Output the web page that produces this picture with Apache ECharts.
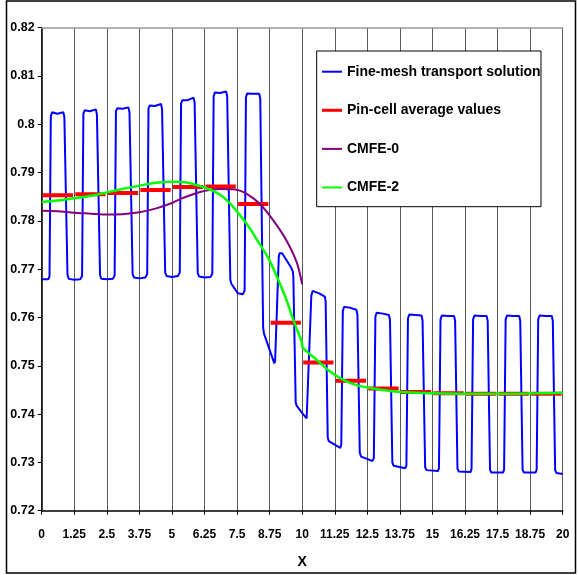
<!DOCTYPE html>
<html>
<head>
<meta charset="utf-8">
<script src="https://cdn.jsdelivr.net/npm/echarts@6/dist/echarts.min.js"></script>
<style>html,body{margin:0;padding:0;background:#fff;}#c{width:578px;height:575px;}</style>
</head>
<body>
<div id="c"></div>
<script>
// ---- data ----
var xTicks = [0, 1.25, 2.5, 3.75, 5, 6.25, 7.5, 8.75, 10, 11.25, 12.5, 13.75, 15, 16.25, 17.5, 18.75, 20];
var yTicks = [0.72, 0.73, 0.74, 0.75, 0.76, 0.77, 0.78, 0.79, 0.8, 0.81, 0.82];

var fineMesh = [
  [0, 0.7679], [0.25, 0.7679], [0.30, 0.7685], [0.35, 0.8017], [0.40, 0.8025], [0.60, 0.8022], [0.83, 0.8025], [0.87, 0.8015], [0.99, 0.7688], [1.04, 0.7680], [1.25, 0.7678], [1.48, 0.7679],
  [1.55, 0.7686], [1.60, 0.8022], [1.65, 0.8029], [1.85, 0.8027], [2.08, 0.8031], [2.12, 0.8020], [2.24, 0.7688], [2.29, 0.7680], [2.5, 0.7679], [2.73, 0.7680],
  [2.80, 0.7687], [2.85, 0.8027], [2.90, 0.8033], [3.10, 0.8032], [3.33, 0.8035], [3.37, 0.8025], [3.49, 0.7690], [3.54, 0.7683], [3.75, 0.7681], [3.98, 0.7683],
  [4.05, 0.7690], [4.10, 0.8033], [4.15, 0.8039], [4.35, 0.8038], [4.58, 0.8042], [4.62, 0.8032], [4.74, 0.7693], [4.79, 0.7686], [5.0, 0.7684], [5.23, 0.7686],
  [5.30, 0.7693], [5.35, 0.8043], [5.40, 0.8050], [5.60, 0.8050], [5.83, 0.8055], [5.87, 0.8045], [5.99, 0.7692], [6.04, 0.7685], [6.25, 0.7683], [6.48, 0.7684],
  [6.55, 0.7691], [6.60, 0.8058], [6.65, 0.8066], [6.85, 0.8065], [7.08, 0.8068], [7.12, 0.8058], [7.24, 0.7678], [7.28, 0.7670], [7.53, 0.7650], [7.72, 0.7648],
  [7.79, 0.7656], [7.84, 0.8056], [7.89, 0.8064], [8.10, 0.8063], [8.35, 0.8063], [8.39, 0.8053], [8.50, 0.7580], [8.53, 0.7567], [8.93, 0.7505], [8.96, 0.7510],
  [9.10, 0.7725], [9.13, 0.7733], [9.23, 0.7733], [9.58, 0.7703], [9.64, 0.7695], [9.66, 0.7685], [9.75, 0.7425], [9.78, 0.7418], [10.0, 0.7402], [10.17, 0.7391], [10.22, 0.7395],
  [10.35, 0.7645], [10.40, 0.7655], [10.65, 0.7650], [10.87, 0.7643], [10.90, 0.7633], [10.98, 0.7352], [11.02, 0.7344], [11.46, 0.7330],
  [11.50, 0.7337], [11.56, 0.7614], [11.61, 0.7622], [11.85, 0.7620], [12.08, 0.7616], [12.12, 0.7606], [12.21, 0.7320], [12.26, 0.7312], [12.70, 0.7303],
  [12.75, 0.7309], [12.81, 0.7602], [12.86, 0.7610], [13.10, 0.7608], [13.33, 0.7605], [13.37, 0.7595], [13.46, 0.7300], [13.51, 0.7293], [13.96, 0.7288],
  [14.00, 0.7294], [14.06, 0.7598], [14.11, 0.7606], [14.35, 0.7605], [14.58, 0.7604], [14.62, 0.7594], [14.72, 0.7290], [14.77, 0.7284], [15.21, 0.7282],
  [15.25, 0.7288], [15.31, 0.7596], [15.36, 0.7604], [15.60, 0.7603], [15.83, 0.7603], [15.87, 0.7593], [15.96, 0.7287], [16.01, 0.7281], [16.46, 0.7280],
  [16.50, 0.7286], [16.56, 0.7596], [16.61, 0.7604], [16.85, 0.7603], [17.08, 0.7603], [17.12, 0.7593], [17.21, 0.7285], [17.26, 0.7279], [17.71, 0.7279],
  [17.75, 0.7285], [17.81, 0.7596], [17.86, 0.7604], [18.10, 0.7603], [18.33, 0.7603], [18.37, 0.7593], [18.46, 0.7285], [18.51, 0.7279], [18.96, 0.7279],
  [19.00, 0.7285], [19.06, 0.7596], [19.11, 0.7604], [19.35, 0.7603], [19.58, 0.7603], [19.62, 0.7593], [19.71, 0.7284], [19.76, 0.7278], [20.00, 0.7276]
];

var pinCellEdges = [0, 1.25, 2.5, 3.75, 5, 6.25, 7.5, 8.75, 10, 11.25, 12.5, 13.75, 15, 16.25, 17.5, 18.75, 20];
var pinCellAverage = [0.7853, 0.7855, 0.7858, 0.7864, 0.7870, 0.7871, 0.7835, 0.7589, 0.7507, 0.7469, 0.7453, 0.7446, 0.7443, 0.7442, 0.7442, 0.7442];

var cmfe0 = [
  [0, 0.7821], [0.6, 0.7820], [1.25, 0.7817], [1.9, 0.7815], [2.5, 0.7813], [3.1, 0.7814], [3.75, 0.7818], [4.4, 0.7826],
  [5.0, 0.7837], [5.31, 0.7845], [5.7, 0.7853], [6.08, 0.7860], [6.45, 0.7864], [6.85, 0.7866], [7.42, 0.7865], [7.87, 0.7856],
  [8.38, 0.7835], [8.89, 0.7801], [9.40, 0.7759], [9.79, 0.7714], [10.0, 0.7669]
];

var cmfe2 = [
  [0, 0.7839], [0.6, 0.7842], [1.25, 0.7847], [1.9, 0.7852], [2.5, 0.7859], [3.1, 0.7866], [3.75, 0.7873], [4.4, 0.7879],
  [5.0, 0.7881], [5.5, 0.7880], [6.08, 0.7872], [6.5, 0.7864], [6.85, 0.7854], [7.2, 0.7838], [7.61, 0.7812], [8.0, 0.7784],
  [8.25, 0.7762], [8.70, 0.7723], [9.08, 0.7678], [9.40, 0.7636], [9.66, 0.7595], [9.88, 0.7564], [9.98, 0.7550], [10.02, 0.7538],
  [10.56, 0.7512], [11.07, 0.7488], [11.58, 0.7471], [12.09, 0.7460], [12.73, 0.7453], [13.37, 0.7448], [13.75, 0.7446],
  [14.9, 0.7443], [16, 0.7442], [17.5, 0.7442], [19, 0.7443], [20, 0.7444]
];

var seriesNames = ['Fine-mesh transport solution', 'Pin-cell average values', 'CMFE-0', 'CMFE-2'];
var xTitle = 'X';

// ---- build red segments (one segment per pin cell, with small gaps) ----
var pinSegments = [];
for (var i = 0; i < pinCellAverage.length; i++) {
  pinSegments.push([pinCellEdges[i] + 0.04, pinCellAverage[i]]);
  pinSegments.push([pinCellEdges[i + 1] - 0.05, pinCellAverage[i]]);
  pinSegments.push([pinCellEdges[i + 1] - 0.02, null]);
}

var FONT = "'Liberation Sans Narrow', 'Arial Narrow', 'Liberation Sans', Arial, sans-serif";
var thinIcon = 'path://M0,0M0,7L20,7L20,9L0,9ZM20,16';
var thickIcon = 'path://M0,0M0,6.5L20,6.5L20,9.5L0,9.5ZM20,16';

var chart = echarts.init(document.getElementById('c'), null, {renderer: 'canvas'});
chart.setOption({
  animation: false,
  backgroundColor: '#fff',
  grid: {left: 41.7, right: 15.3, top: 27.7, bottom: 64.3, containLabel: false},
  xAxis: [{
    type: 'value', min: xTicks[0], max: xTicks[xTicks.length - 1], interval: 1.25,
    name: xTitle, nameLocation: 'middle', nameGap: 44,
    nameTextStyle: {fontFamily: FONT, fontWeight: 'bold', fontSize: 14, color: '#000'},
    axisLine: {show: true, onZero: false, lineStyle: {color: '#000', width: 1.5}},
    axisTick: {show: true, inside: false, length: 4, lineStyle: {color: '#000'}},
    axisLabel: {margin: 18, fontFamily: FONT, fontWeight: 'bold', fontSize: 12, color: '#000', showMinLabel: true, showMaxLabel: true},
    splitLine: {show: true, showMinLine: true, showMaxLine: true, lineStyle: {color: '#5a5a5a', width: 1}}
  }, {
    type: 'value', position: 'top', min: xTicks[0], max: xTicks[xTicks.length - 1], interval: 1.25,
    axisLine: {show: true, onZero: false, lineStyle: {color: '#999', width: 1.5}},
    axisTick: {show: false}, axisLabel: {show: false}, splitLine: {show: false}
  }],
  yAxis: {
    type: 'value', min: yTicks[0], max: yTicks[yTicks.length - 1], interval: 0.01,
    axisLine: {show: true, onZero: false, lineStyle: {color: '#000', width: 1.5}},
    axisTick: {show: true, inside: false, length: 4, lineStyle: {color: '#000'}},
    axisLabel: {margin: 7, fontFamily: FONT, fontWeight: 'bold', fontSize: 12.5, color: '#000'},
    splitLine: {show: false}
  },
  legend: {
    orient: 'vertical', left: 322, top: 63.7, padding: 0,
    itemWidth: 20, itemHeight: 16, itemGap: 22.6, z: 10,
    data: [
      {name: seriesNames[0], icon: thinIcon},
      {name: seriesNames[1], icon: thickIcon},
      {name: seriesNames[2], icon: thinIcon},
      {name: seriesNames[3], icon: thinIcon}
    ],
    textStyle: {fontFamily: FONT, fontWeight: 'bold', fontSize: 14, color: '#000'}
  },
  graphic: [
    {type: 'rect', z: 5, shape: {x: 316.7, y: 51, width: 224.3, height: 155.7},
     style: {fill: '#fff', stroke: '#000', lineWidth: 1}},
    {type: 'rect', z: 5, shape: {x: 6.5, y: 1, width: 569, height: 572},
     style: {fill: 'none', stroke: '#000', lineWidth: 1.5}}
  ],
  series: [
    {name: seriesNames[0], type: 'line', data: fineMesh, symbol: 'none', z: 2,
     lineStyle: {color: '#0000ff', width: 2}, itemStyle: {color: '#0000ff'}},
    {name: seriesNames[1], type: 'line', data: pinSegments, symbol: 'none', connectNulls: false, z: 3,
     lineStyle: {color: '#ff0000', width: 4}, itemStyle: {color: '#ff0000'}},
    {name: seriesNames[2], type: 'line', data: cmfe0, symbol: 'none', smooth: 0.3, z: 4,
     lineStyle: {color: '#800080', width: 2}, itemStyle: {color: '#800080'}},
    {name: seriesNames[3], type: 'line', data: cmfe2, symbol: 'none', smooth: 0.3, z: 4,
     lineStyle: {color: '#00ff00', width: 2.5}, itemStyle: {color: '#00ff00'}}
  ]
});
</script>
</body>
</html>
